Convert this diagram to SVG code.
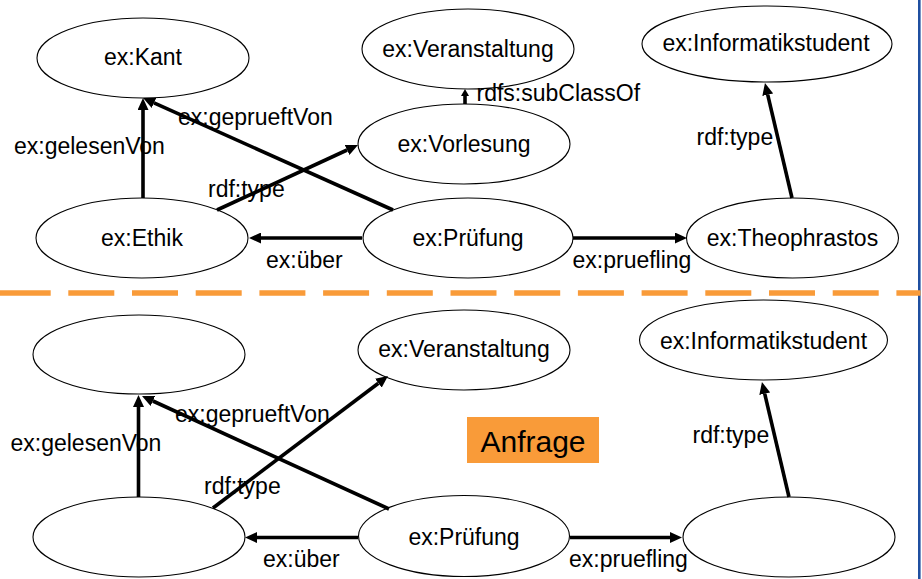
<svg xmlns="http://www.w3.org/2000/svg" width="922" height="579" viewBox="0 0 922 579">
  <style>
    .node ellipse { fill: #ffffff; stroke: #000000; stroke-width: 1.1; }
    .node text { font-family: "Liberation Sans", Arial, sans-serif; font-size: 23px; fill: #000000; text-anchor: middle; }
    .edge { stroke: #000000; stroke-width: 3.6; fill: none; }
    .lbl { font-family: "Liberation Sans", Arial, sans-serif; font-size: 23px; fill: #000000; }
  </style>
  <defs>
    <marker id="arrow" markerUnits="userSpaceOnUse" markerWidth="12" markerHeight="11" refX="0" refY="5.5" orient="auto">
      <path d="M0,0 L12,5.5 L0,11 z" fill="#000000"/>
    </marker>
    <marker id="arrowSmall" markerUnits="userSpaceOnUse" markerWidth="7" markerHeight="8" refX="0" refY="4" orient="auto">
      <path d="M0,0 L7,4 L0,8 z" fill="#000000"/>
    </marker>
  </defs>

  <rect x="0" y="0" width="922" height="579" fill="#ffffff"/>

  <!-- frame edge on the right -->
  <rect x="918" y="0" width="2.6" height="579" fill="#1f4fa0"/>

  <!-- separator between data graph and query graph -->
  <g id="separator">
    <line x1="0" y1="293" x2="50.7" y2="293" stroke="#f99b39" stroke-width="5.5"/>
    <line x1="68.3" y1="293" x2="920.5" y2="293" stroke="#f99b39" stroke-width="5.5" stroke-dasharray="46 17.7"/>
  </g>

  <!-- data graph nodes -->
  <g id="n-kant" class="node">
    <ellipse cx="143" cy="58" rx="106" ry="40"/>
    <text x="143" y="65">ex:Kant</text>
  </g>
  <g id="n-veranstaltung" class="node">
    <ellipse cx="468" cy="49" rx="106" ry="40"/>
    <text x="468" y="57">ex:Veranstaltung</text>
  </g>
  <g id="n-informatikstudent" class="node">
    <ellipse cx="767" cy="44" rx="125" ry="38"/>
    <text x="766" y="51">ex:Informatikstudent</text>
  </g>
  <g id="n-vorlesung" class="node">
    <ellipse cx="464" cy="144" rx="106" ry="40"/>
    <text x="464" y="152">ex:Vorlesung</text>
  </g>
  <g id="n-ethik" class="node">
    <ellipse cx="142" cy="238" rx="106" ry="40"/>
    <text x="142" y="246">ex:Ethik</text>
  </g>
  <g id="n-pruefung" class="node">
    <ellipse cx="468" cy="238" rx="105" ry="40"/>
    <text x="468" y="246">ex:Prüfung</text>
  </g>
  <g id="n-theophrastos" class="node">
    <ellipse cx="792.5" cy="238" rx="106" ry="40"/>
    <text x="792.5" y="246">ex:Theophrastos</text>
  </g>

  <!-- query graph nodes -->
  <g id="q-lecturer" class="node">
    <ellipse cx="139" cy="354.5" rx="106" ry="39.5"/>
  </g>
  <g id="q-veranstaltung" class="node">
    <ellipse cx="464" cy="350" rx="106" ry="40"/>
    <text x="464" y="357">ex:Veranstaltung</text>
  </g>
  <g id="q-informatikstudent" class="node">
    <ellipse cx="763.5" cy="340" rx="124" ry="40"/>
    <text x="763.5" y="349">ex:Informatikstudent</text>
  </g>
  <g id="q-course" class="node">
    <ellipse cx="139" cy="537" rx="106" ry="40"/>
  </g>
  <g id="q-pruefung" class="node">
    <ellipse cx="464" cy="536" rx="105.5" ry="40.5"/>
    <text x="464" y="545">ex:Prüfung</text>
  </g>
  <g id="q-student" class="node">
    <ellipse cx="789" cy="537" rx="106" ry="40"/>
  </g>

  <!-- connector labels -->
  <g id="edge-labels">
    <text class="lbl" x="14" y="154">ex:gelesenVon</text>
    <text class="lbl" x="178" y="125">ex:geprueftVon</text>
    <text class="lbl" x="208" y="197">rdf:type</text>
    <text class="lbl" x="266" y="268">ex:über</text>
    <text class="lbl" x="572.5" y="268">ex:pruefling</text>
    <text class="lbl" x="696.5" y="145">rdf:type</text>
    <text class="lbl" x="476.5" y="101">rdfs:subClassOf</text>

    <text class="lbl" x="10.5" y="451">ex:gelesenVon</text>
    <text class="lbl" x="175" y="422">ex:geprueftVon</text>
    <text class="lbl" x="204" y="494">rdf:type</text>
    <text class="lbl" x="263" y="567">ex:über</text>
    <text class="lbl" x="569" y="567">ex:pruefling</text>
    <text class="lbl" x="692.5" y="443">rdf:type</text>
  </g>

  <!-- connectors -->
  <g id="connectors">
    <!-- data graph -->
    <line class="edge" x1="143" y1="198" x2="143" y2="110" marker-end="url(#arrow)"/>
    <line class="edge" x1="393" y1="210" x2="154" y2="102.9" marker-end="url(#arrow)"/>
    <line class="edge" x1="217" y1="210" x2="347.1" y2="150" marker-end="url(#arrow)"/>
    <line class="edge" x1="362" y1="238" x2="261" y2="238" marker-end="url(#arrow)"/>
    <line class="edge" x1="573" y1="238" x2="675" y2="238" marker-end="url(#arrow)"/>
    <line class="edge" x1="792" y1="198" x2="767.7" y2="94.7" marker-end="url(#arrow)"/>
    <line class="edge" x1="465" y1="104" x2="465" y2="96" stroke-width="2.5" marker-end="url(#arrowSmall)"/>

    <!-- query graph -->
    <line class="edge" x1="138.5" y1="497" x2="138.5" y2="407" marker-end="url(#arrow)"/>
    <line class="edge" x1="389" y1="509" x2="152.9" y2="401" marker-end="url(#arrow)"/>
    <line class="edge" x1="213" y1="508" x2="378.4" y2="383.2" marker-end="url(#arrow)"/>
    <line class="edge" x1="358" y1="537.5" x2="257" y2="537.5" marker-end="url(#arrow)"/>
    <line class="edge" x1="570" y1="537.5" x2="670" y2="537.5" marker-end="url(#arrow)"/>
    <line class="edge" x1="789" y1="497" x2="764.7" y2="393.7" marker-end="url(#arrow)"/>
  </g>

  <!-- query marker -->
  <g id="anfrage">
    <rect x="467" y="417" width="132" height="46" fill="#f99b39"/>
    <text x="533" y="452" font-family="Liberation Sans, Arial, sans-serif" font-size="30" text-anchor="middle" fill="#000000">Anfrage</text>
  </g>
</svg>
